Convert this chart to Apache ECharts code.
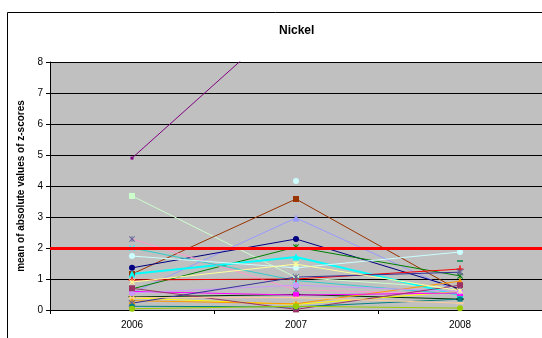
<!DOCTYPE html>
<html><head><meta charset="utf-8">
<script src="https://cdn.jsdelivr.net/npm/echarts@6/dist/echarts.min.js"></script>
<style>html,body{margin:0;padding:0;background:#fff}#c{width:542px;height:338px}</style>
</head><body><div id="c"></div>
<script>
const categories = ['2006', '2007', '2008'];
const yTicks = [0, 1, 2, 3, 4, 5, 6, 7, 8];
const thresholdValue = 2;

const sPurple      = [4.9, 9.64, null];
const sLightGreen  = [3.68, 1.05, 0.7];
const sBrown       = [1.16, 3.58, 0.62];
const sPeriwinkle  = [0.55, 2.97, 0.55];
const sNavy        = [1.36, 2.29, 0.68];
const sGreen       = [0.68, 2.03, 1.1];
const sCyan        = [1.16, 1.71, 0.48];
const sPink        = [2.29, 0.65, 0.52];
const sCyanX       = [2.0, 0.95, 0.5];
const sLightCyan   = [1.74, 1.36, 1.87];
const sLightCyan2  = [null, 4.16, null];
const sTealDash    = [null, null, 1.58];
const sRed         = [0.97, 1.0, 1.32];
const sDarkGreen   = [0.42, 0.5, 0.35];
const sYellow      = [0.39, 0.18, 0.6];
const sOrange      = [0.3, 0.2, 0.93];
const sMagenta     = [0.6, 0.48, 0.55];
const sLavender    = [0.55, 0.8, 0.6];
const sRaspberry   = [0.7, 0.02, 0.8];
const sSlateBlue   = [0.22, 1.06, 1.22];
const sTeal        = [0.12, 0.1, 0.35];
const sYellowGreen = [0.04, 0.12, 0.06];
const sPeach       = [0.4, 0.4, 0.22];
const sLightYellow = [0.9, 1.48, 0.62];

const X = 'path://M0,1L1,0L5,4L9,0L10,1L6,5L10,9L9,10L5,6L1,10L0,9L4,5Z';
const PLUS = 'path://M4,0H6V4H10V6H6V10H4V6H0V4H4Z';
const AST = 'path://M0,1L1,0L4.3,3.3V0H5.7V3.3L9,0L10,1L6.4,4.6L10,8.9L9,10L5.7,6.7V10H4.3V6.7L1,10L0,9L3.6,5.4Z';
const DASH = 'rect';

function mk(name, data, color, symbol, size, width, markerColor) {
  return {
    name, type: 'line', data, symbol, symbolSize: size || 6,
    connectNulls: false, clip: true, animation: false,
    lineStyle: { color, width: width || 1 },
    itemStyle: { color: markerColor || color },
    z: 3
  };
}

const series = [
  mk('a', sPurple, '#800080', 'rect', 3),
  mk('b', sLightGreen, '#CCFFCC', 'rect', 6),
  mk('c', sBrown, '#993300', 'rect', 6),
  mk('d', sPeriwinkle, '#9999FF', 'triangle', 7),
  mk('e', sNavy, '#000080', 'circle', 6),
  mk('f', sGreen, '#008000', AST, 6),
  mk('g', sCyan, '#00FFFF', 'triangle', 7, 2),
  mk('h', sPink, '#FF99CC', AST, 6, 1, '#666699'),
  mk('i', sCyanX, '#33CCCC', X, 6, 1, '#00FFFF'),
  mk('j', sLightCyan, '#CCFFFF', 'circle', 6),
  mk('k', sLightCyan2, '#CCFFFF', 'circle', 6),
  mk('l', sTealDash, '#339966', DASH, [6, 2]),
  mk('m', sRed, '#FF0000', PLUS, 7),
  mk('n', sDarkGreen, '#003300', DASH, [7, 2]),
  mk('o', sYellow, '#FFFF00', X, 6),
  mk('p', sOrange, '#FF9900', 'triangle', 7),
  mk('q', sMagenta, '#FF00FF', 'rect', 6),
  mk('r', sLavender, '#CC99FF', 'circle', 6),
  mk('s', sRaspberry, '#993366', 'rect', 6),
  mk('t', sSlateBlue, '#333399', AST, 7, 1, '#666699'),
  mk('u', sTeal, '#008080', 'rect', 5),
  mk('v', sYellowGreen, '#99CC00', 'circle', 6),
  mk('w', sPeach, '#FFCC99', DASH, [7, 2]),
  mk('x', sLightYellow, '#FFFF99', AST, 6)
];
series[0].markLine = {
  silent: true, symbol: 'none', animation: false,
  label: { show: false },
  lineStyle: { color: '#FF0000', width: 3, type: 'solid' },
  data: [{ yAxis: thresholdValue }]
};
series[0].z = 4;

const chart = echarts.init(document.getElementById('c'), null, { renderer: 'canvas' });
chart.setOption({
  backgroundColor: '#ffffff',
  animation: false,
  textStyle: { fontFamily: 'Liberation Sans, Arial, sans-serif' },
  title: {
    text: 'Nickel', left: 274, top: 20,
    textStyle: { fontSize: 12, fontWeight: 'bold', color: '#000', fontFamily: 'Liberation Sans, Arial, sans-serif' }
  },
  graphic: [{
    type: 'rect', silent: true, z: -1,
    shape: { x: 7.5, y: 12.5, width: 700, height: 500 },
    style: { fill: 'none', stroke: '#000', lineWidth: 1 }
  }],
  grid: {
    left: 50, right: 0, top: 62, bottom: 28,
    show: true, backgroundColor: '#C0C0C0', borderWidth: 0
  },
  xAxis: {
    type: 'category', data: categories, boundaryGap: true,
    axisLine: { show: true, lineStyle: { color: '#000', width: 1 } },
    axisTick: { show: true, length: 4, inside: false, lineStyle: { color: '#000' } },
    axisLabel: { color: '#000', fontSize: 10, margin: 10 },
    splitLine: { show: false }
  },
  yAxis: {
    type: 'value', min: yTicks[0], max: yTicks[yTicks.length - 1], interval: 1,
    name: 'mean of absolute values of z-scores', nameLocation: 'middle', nameGap: 13,
    nameTextStyle: { fontSize: 10, fontWeight: 'bold', color: '#000' },
    axisLine: { show: true, lineStyle: { color: '#000', width: 1 } },
    axisTick: { show: true, length: 4, lineStyle: { color: '#000' } },
    axisLabel: { color: '#000', fontSize: 10, margin: 7 },
    splitLine: { show: true, lineStyle: { color: '#000', width: 1 } }
  },
  series
});
</script></body></html>
